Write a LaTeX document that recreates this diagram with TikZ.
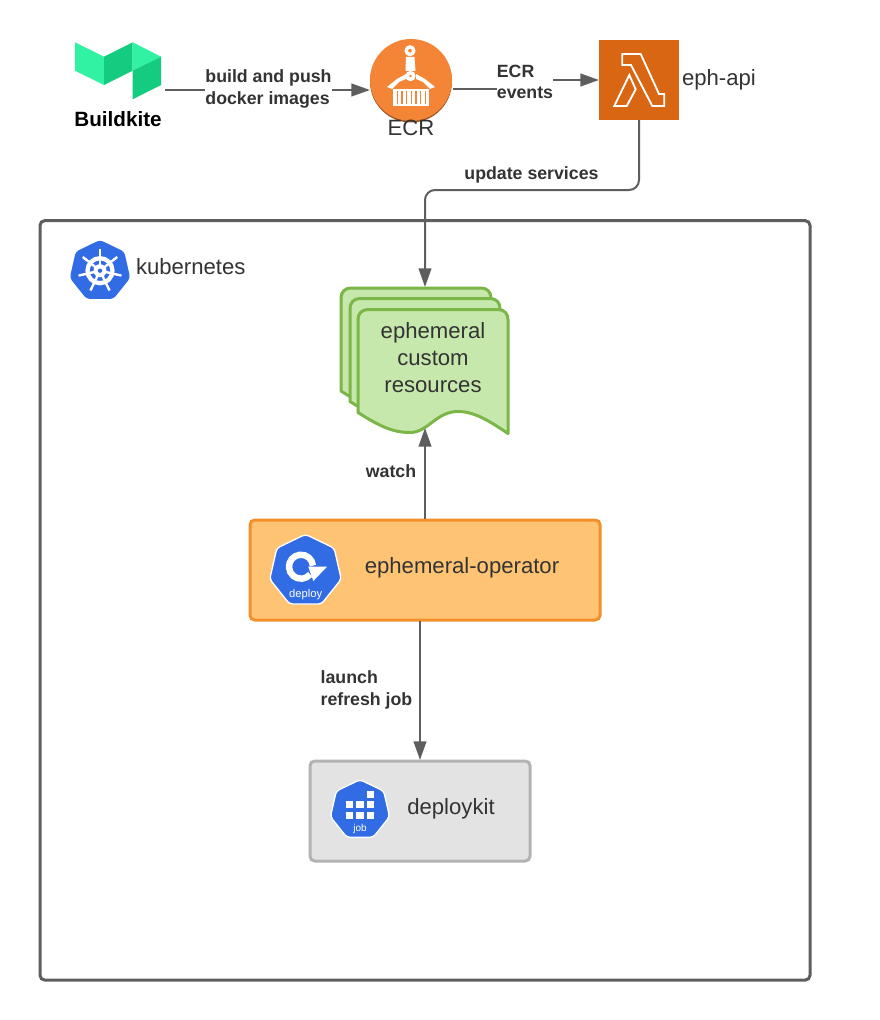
\documentclass[tikz,border=0pt]{standalone}
\usepackage{fontspec}
\setmainfont{Liberation Sans}
\usetikzlibrary{arrows.meta,shapes.geometric}
\definecolor{ink}{HTML}{333333}
\definecolor{wire}{HTML}{5E5E5E}
\definecolor{kblue}{HTML}{326CE5}
\definecolor{bklight}{HTML}{30F2A2}
\definecolor{bkdark}{HTML}{14CC80}
\definecolor{ecrfill}{HTML}{F58536}
\definecolor{ecrdark}{HTML}{9D5025}
\definecolor{lamfill}{HTML}{D86613}
\definecolor{docfill}{HTML}{C7E8AC}
\definecolor{docline}{HTML}{7AB648}
\definecolor{opfill}{HTML}{FFC374}
\definecolor{opline}{HTML}{F2912A}
\definecolor{jobfill}{HTML}{E3E3E3}
\definecolor{jobline}{HTML}{B3B3B3}
\definecolor{frameline}{HTML}{5E5E5E}
\tikzset{
  wireline/.style={draw=wire,line width=1.5pt},
  arrowline/.style={wireline,-{Triangle[length=14pt,width=9.5pt]}},
  plain/.style={font=\fontsize{16.6}{20.25}\selectfont,text=ink,inner sep=0pt,outer sep=0pt},
  edgelabel/.style={font=\fontsize{13.3}{16.1}\selectfont\bfseries,text=ink,inner sep=0pt,outer sep=0pt,align=left},
  boxnode/.style={rectangle,rounded corners=3.5pt,line width=2.25pt,inner sep=0pt,outer sep=0pt,anchor=north west},
  hept/.style={regular polygon,regular polygon sides=7,fill=kblue,rounded corners=2.5pt,inner sep=0pt,outer sep=0pt},
  docsheetstyle/.style={fill=docfill,draw=docline,line width=2.25pt,line join=round},
}
% doc sheet: left, top
\newcommand{\docsheet}[2]{%
  \begin{scope}[shift={(#1,#2)}]
  \draw[docsheetstyle] (0,103)
     .. controls (22,117) and (35,123) .. (52,123)
     .. controls (70,123) and (78,102) .. (100,102)
     .. controls (117,102) and (132,112) .. (150,124)
     -- (150,10) .. controls (150,4) and (146,0) .. (140,0)
     -- (10,0) .. controls (4,0) and (0,4) .. (0,10) -- cycle;
  \end{scope}
}
\begin{document}
\begin{tikzpicture}[x=0.75pt,y=-0.75pt]
\useasboundingbox (0,0) rectangle (880,1020);
\fill[white] (0,0) rectangle (880,1020);

% frame
\node[boxnode,draw=frameline,minimum width=577.5pt,minimum height=569.5pt] (frame) at (40,220.7) {};

% Buildkite logo
\fill[bklight] (75,42.3) -- (104,56.7) -- (104,85) -- (75,70.7) -- cycle;
\fill[bkdark] (104,56.7) -- (132.7,42.3) -- (132.7,70.7) -- (104,85) -- cycle;
\fill[bklight] (132.7,42.3) -- (161,56.7) -- (132.7,70.7) -- cycle;
\fill[bkdark] (161,56.7) -- (161,85) -- (132.7,99.3) -- (132.7,70.7) -- cycle;
\node[inner sep=0pt,font=\fontsize{15.5}{19}\selectfont\bfseries,text=black] (bklabel) at (118,119.5) {Buildkite};
\coordinate (bkout) at (165,90);

% ECR
\fill[ecrdark] (411,81.5) circle[radius=41];
\node[circle,fill=ecrfill,minimum size=61.5pt,inner sep=0pt,outer sep=0pt] (ecr) at (411,80) {};
\coordinate (ecrin) at (370,90);
\coordinate (ecrout) at (453,89);
\begin{scope}[white]
  \fill[even odd rule] (410,50.7) circle[radius=5.6] (410,50.7) circle[radius=2];
  \fill (406,57) -- (414.5,57) -- (415.5,71) -- (405.5,71) -- cycle;
  \fill (397,79) -- (406,74) -- (406,79) -- (399,82) -- (392,89) -- (387,87) -- cycle;
  \fill (425,79) -- (416,74) -- (416,79) -- (423,82) -- (430,89) -- (435,87) -- cycle;
  \fill[even odd rule] (410.5,76) circle[radius=5.2] (410.5,76) circle[radius=1.6];
  \fill (393.3,89) rectangle (429.3,106);
\end{scope}
\foreach \i in {0,...,6}{\fill[ecrfill] (396.5+\i*4.7,91) rectangle ++(1.3,13);}
\node[plain] (ecrlabel) at (411,128) {ECR};

% Lambda
\node[rectangle,fill=lamfill,minimum width=60pt,minimum height=60pt,inner sep=0pt,outer sep=0pt] (lambda) at (639,80) {};
\draw[white,line width=1.4pt,line join=miter] (622.3,54) -- (640.7,54) -- (659,94) -- (664.3,94) -- (664.3,106) -- (652.3,106) -- (631,65) -- (622.3,65) -- cycle;
\draw[white,line width=1.4pt,line join=miter] (629.3,75) -- (635.7,89.3) -- (626.7,106) -- (614.3,106) -- cycle;
\node[plain,anchor=west] (ephapi) at (682,80) {eph-api};

% Kubernetes logo
\node[hept,minimum size=46.5pt] (kube) at (100,271) {};
\draw[white,line width=3.2pt] (100,270.7) circle[radius=12.5];
\foreach \k in {0,...,6}{\draw[white,line width=1.8pt] (100,270.7) -- ++(-90+\k*51.4286:22);}
\fill[white] (100,270.7) circle[radius=6.5];
\fill[kblue] (100,270.7) circle[radius=2.2];
\node[plain,anchor=west] (kubelabel) at (136,267) {kubernetes};

% Custom resources
\docsheet{341}{288}
\docsheet{350}{298.5}
\docsheet{358}{309.5}
\node[plain,align=center] (crd) at (433,358) {ephemeral\\custom\\resources};
\coordinate (crdtop) at (425,287);
\coordinate (crdbottom) at (425,428);

% Operator
\node[boxnode,fill=opfill,draw=opline,minimum width=262.5pt,minimum height=75pt] (operator) at (250,520) {};
\node[hept,draw=white,line width=1pt,minimum size=55pt] (deploy) at (305.5,571) {};
\draw[white,line width=4.8pt] (301,566.7) ++(-5:12) arc[start angle=-5,end angle=-320,radius=12];
\fill[white] (308.3,566.7) -- (327,566.7) -- (313.3,581) -- cycle;
\node[inner sep=0pt,text=white,font=\fontsize{8.4}{10}\selectfont] (deploytext) at (305.7,594.3) {deploy};
\node[plain] (oplabel) at (462,568) {ephemeral-operator};
\coordinate (opup) at (425,519);
\coordinate (opdown) at (420,621);

% Deploykit
\node[boxnode,fill=jobfill,draw=jobline,minimum width=165pt,minimum height=75pt] (deploykit) at (310,761) {};
\node[hept,draw=white,line width=1pt,minimum size=45.5pt] (job) at (360,810) {};
\foreach \x/\y in {366.7/790.7,346/801,356.3/801,366.7/801,346/811.7,356.3/811.7,366.7/811.7}{\fill[white] (\x,\y) rectangle ++(7.4,7.4);}
\node[inner sep=0pt,text=white,font=\fontsize{7.5}{9}\selectfont] (jobtext) at (360,829.3) {job};
\node[plain] (dklabel) at (451,809) {deploykit};
\coordinate (dktop) at (420,760);

% Connectors
\draw[arrowline] (bkout) -- (ecrin);
\node[edgelabel,fill=white,inner ysep=1pt] (buildlabel) at (268.5,89) {build and push\\docker images};
\draw[arrowline] (ecrout) -- (525,89) -- (525,80) -- (lambda.west);
\node[edgelabel,fill=white,inner ysep=1pt] (ecrevents) at (525,82) {ECR\\events};
\draw[arrowline,rounded corners=7.5pt] (lambda.south) -- (639,190) -- (425,190) -- (crdtop);
\node[edgelabel] (updatelabel) at (531.5,175) {update services};
\draw[arrowline] (opup) -- (crdbottom);
\node[edgelabel] (watchlabel) at (391,471) {watch};
\draw[arrowline] (opdown) -- (dktop);
\node[edgelabel] (launchlabel) at (366.5,690) {launch\\refresh job};
\end{tikzpicture}
\end{document}
